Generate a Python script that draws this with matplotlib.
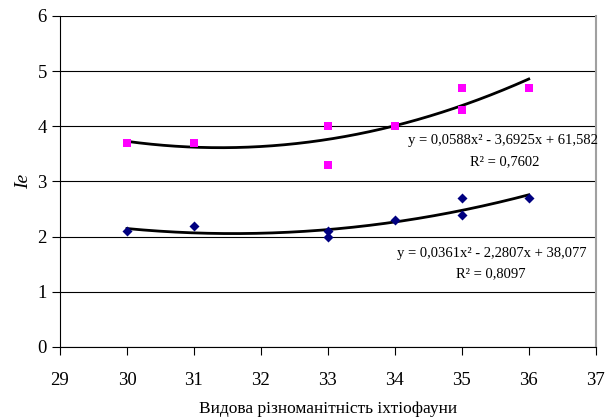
import matplotlib.pyplot as plt
import numpy as np

plt.rcParams['font.family'] = ['Liberation Serif', 'DejaVu Serif']

# Ie values for each species-diversity point
x_pink = [30, 31, 33, 33, 34, 35, 35, 36]
y_pink = [3.7, 3.7, 4.0, 3.3, 4.0, 4.7, 4.3, 4.7]
x_blue = [30, 31, 33, 33, 34, 35, 35, 36]
y_blue = [2.1, 2.2, 2.1, 2.0, 2.3, 2.7, 2.4, 2.7]

# polynomial trendlines as printed on the chart
coef_pink = [0.0588, -3.6925, 61.582]
coef_blue = [0.0361, -2.2807, 38.077]
r2_pink = "0,7602"
r2_blue = "0,8097"

fig = plt.figure(figsize=(6.06, 4.2), dpi=100)
ax = fig.add_axes([0.099, 0.174, 0.884, 0.788])

xs = np.linspace(30, 36, 200)
ax.plot(xs, np.polyval(coef_pink, xs), color='black', lw=2, zorder=2)
ax.plot(xs, np.polyval(coef_blue, xs), color='black', lw=2, zorder=2)
ax.scatter(x_pink, y_pink, marker='s', s=30, color='#ff00ff', zorder=3, linewidths=0)
ax.scatter(x_blue, y_blue, marker='D', s=26, color='#000080', zorder=3, linewidths=0)

ax.set_xlim(29, 37)
ax.set_ylim(0, 6)
ax.set_xticks(range(29, 38))
ax.set_yticks(range(0, 7))
ax.yaxis.grid(True, color='black', lw=0.8)
ax.set_axisbelow(True)
ax.tick_params(direction='out', length=6, labelsize=13.5, width=0.8)
ax.tick_params(axis='x', pad=12)
ax.spines['top'].set_visible(False)
ax.spines['right'].set_color('#a0a0a0')
ax.spines['right'].set_linewidth(1.5)

ax.set_ylabel('Ie', style='italic', fontsize=14, labelpad=4)
ax.set_xlabel('Видова різноманітність іхтіофауни', fontsize=12.5, labelpad=9)

def eq_text(c):
    return ('y = ' + f'{c[0]:.4f}'.replace('.', ',') + 'x² - '
            + f'{-c[1]:.4f}'.replace('.', ',') + 'x + '
            + f'{c[2]:.3f}'.replace('.', ','))

ax.text(35.62, 3.74, eq_text(coef_pink), ha='center', va='center', fontsize=10.5, clip_on=False)
ax.text(35.64, 3.36, 'R² = ' + r2_pink, ha='center', va='center', fontsize=10.5)
ax.text(35.45, 1.70, eq_text(coef_blue), ha='center', va='center', fontsize=10.5)
ax.text(35.43, 1.32, 'R² = ' + r2_blue, ha='center', va='center', fontsize=10.5)

fig.savefig('out.png', dpi=100)
